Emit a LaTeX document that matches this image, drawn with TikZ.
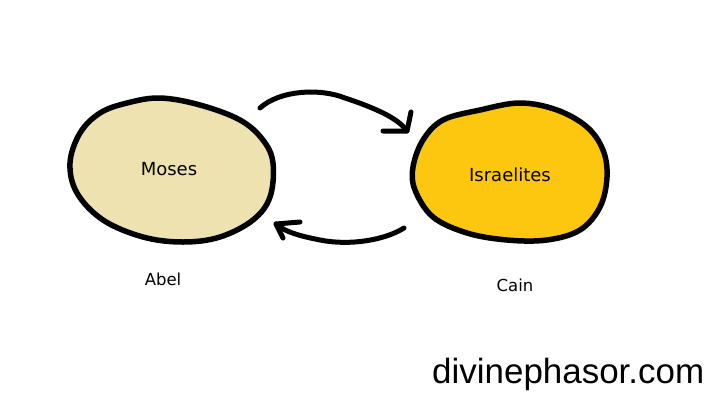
\documentclass[tikz,border=0pt]{standalone}
\usepackage{fontspec}
\setmainfont{DejaVu Sans}
\newfontfamily\markfont{Liberation Sans}
\usetikzlibrary{calc}
\definecolor{mosesfill}{HTML}{EEE2B1}
\definecolor{israelfill}{HTML}{FDC70F}
\tikzset{
  blob/.style={draw=black, line width=5.5pt, line join=round},
  lbl/.style={font=\fontsize{18}{21}\selectfont, text=black, inner sep=0pt},
  subl/.style={font=\fontsize{16.5}{19}\selectfont, text=black, inner sep=0pt},
  stroke/.style={draw=black, line width=5pt, line cap=round, line join=round},
}
\begin{document}
\begin{tikzpicture}[x=1pt,y=-1pt]
\useasboundingbox (0,0) rectangle (709,400);
% left blob
\path[blob, fill=mosesfill] plot[smooth cycle, tension=0.6] coordinates {
 (127,103) (160,98) (200,105) (240,120) (263,140) (273,163) (270,197)
 (253,220) (220,237) (183,242) (143,237) (103,220) (77,193) (70,163)
 (80,133) (100,113)};
% right blob
\path[blob, fill=israelfill] plot[smooth cycle, tension=0.6] coordinates {
 (443,120) (480,110) (520,103) (557,110) (587,127) (603,150) (607,177)
 (600,207) (580,230) (547,240) (507,240) (467,233) (433,217) (415,190)
 (413,167) (423,140)};
\node[lbl] (moses) at (169,169) {Moses};
\node[lbl] (isr) at (510,175) {Israelites};
\node[subl] (abel) at (163,279) {Abel};
\node[subl] (cain) at (515,285) {Cain};
% top arrow
\coordinate (t0) at (260,108);
\coordinate (t1) at (407,131);
\coordinate (th1) at (383,131);
\coordinate (th2) at (411,112);
\draw[stroke] (t0) .. controls (280,90) and (320,88) .. (345,98)
  .. controls (375,108) and (398,118) .. (t1);
\draw[stroke] (th1) -- (t1) -- (th2);
% bottom arrow
\coordinate (b0) at (404,228);
\coordinate (b1) at (276,224);
\coordinate (bh1) at (300,222);
\coordinate (bh2) at (283,238);
\draw[stroke] (b0) .. controls (385,240) and (350,246) .. (320,240)
  .. controls (300,236) and (285,232) .. (b1);
\draw[stroke] (bh1) -- (b1) -- (bh2);
% watermark
\node[inner sep=0pt, anchor=base west] (wm) at (432,383)
  {\resizebox{272pt}{!}{\markfont\fontsize{36}{40}\selectfont divinephasor.com}};
\end{tikzpicture}
\end{document}
